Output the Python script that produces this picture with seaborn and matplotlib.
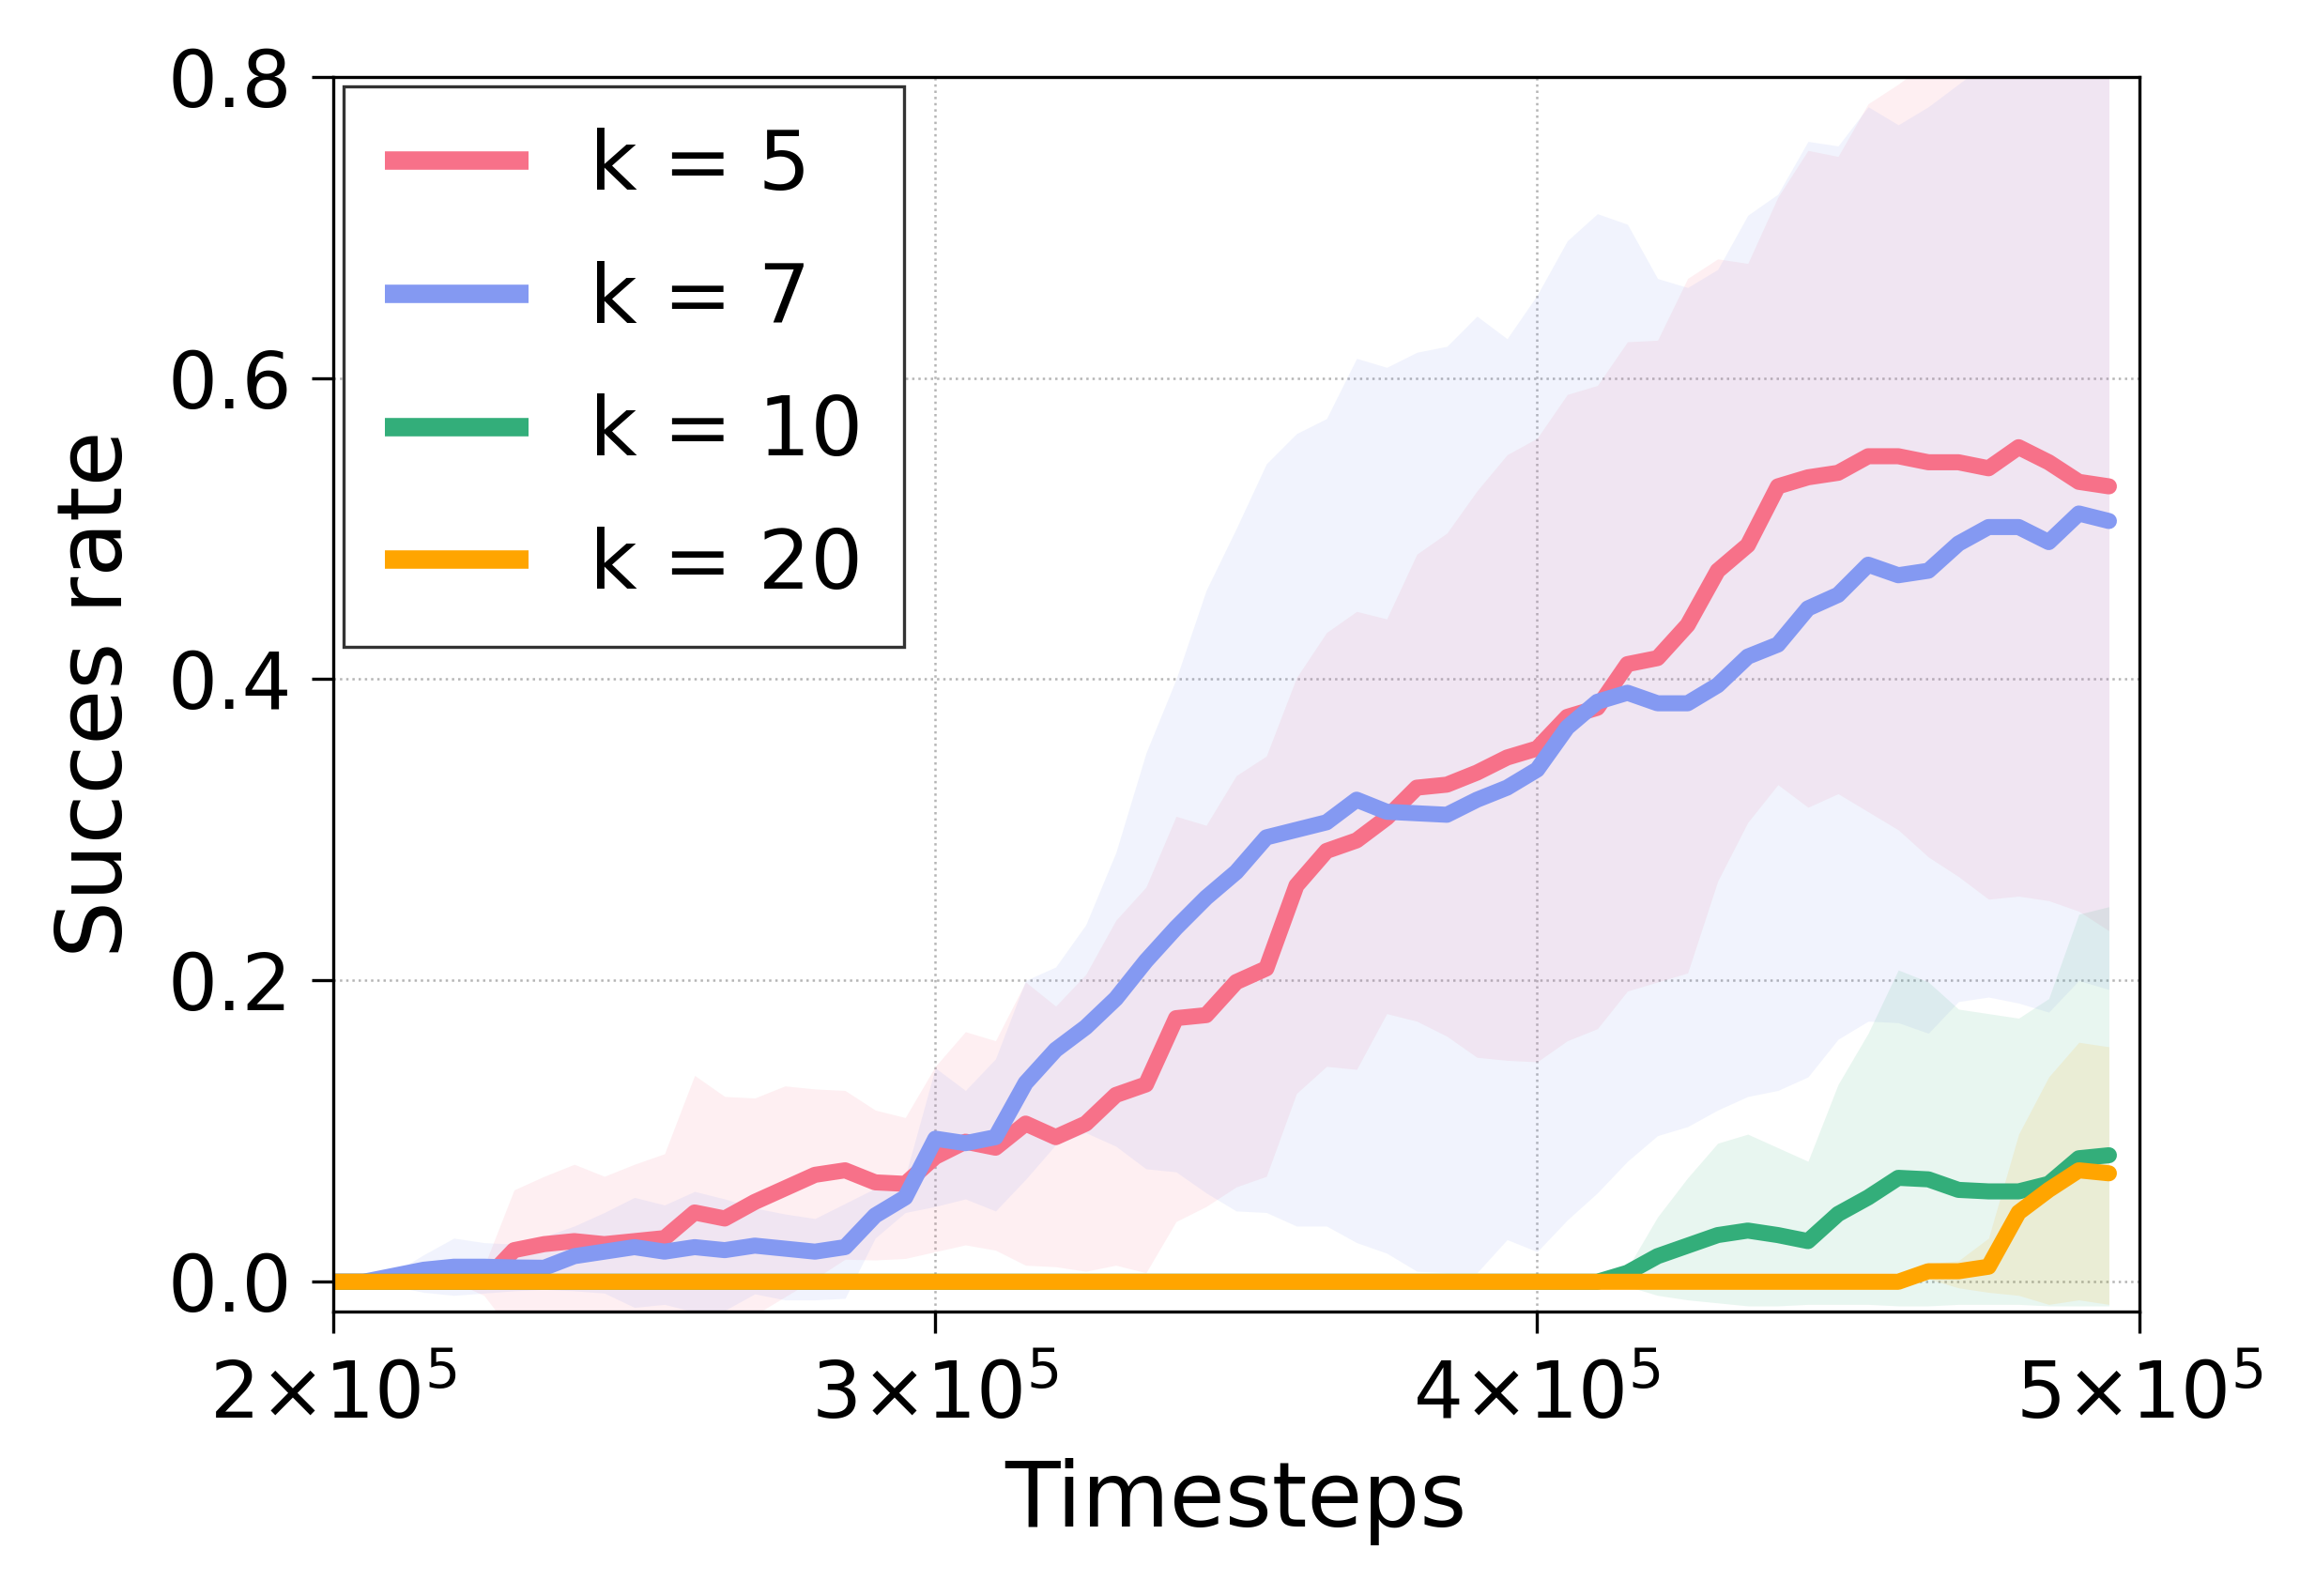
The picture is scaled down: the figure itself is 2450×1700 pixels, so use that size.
import numpy as np
import pandas as pd
import matplotlib
matplotlib.use("Agg")
import matplotlib.pyplot as plt
import seaborn as sns

# timesteps every 5000 from 2e5 to 4.95e5
timesteps = [200000 + 5000 * i for i in range(60)]

k5_mean = [0, 0, 0, 0, 0, 0.0, 0.021, 0.025, 0.027, 0.025,
           0.027, 0.029, 0.046, 0.042, 0.053, 0.062, 0.071, 0.074, 0.066, 0.065,
           0.083, 0.093, 0.089, 0.105, 0.096, 0.105, 0.124, 0.131, 0.175, 0.177,
           0.199, 0.208, 0.263, 0.286, 0.293, 0.308, 0.328, 0.330, 0.338, 0.348,
           0.354, 0.375, 0.381, 0.410, 0.414, 0.436, 0.472, 0.489, 0.528, 0.534,
           0.537, 0.548, 0.548, 0.544, 0.544, 0.540, 0.554, 0.544, 0.531, 0.528]
k5_upper = [0, 0, 0, 0, 0, 0.01, 0.061, 0.070, 0.078, 0.070,
            0.078, 0.085, 0.137, 0.123, 0.122, 0.130, 0.128, 0.127, 0.114, 0.109,
            0.143, 0.166, 0.160, 0.199, 0.183, 0.204, 0.240, 0.262, 0.309, 0.303,
            0.336, 0.349, 0.401, 0.431, 0.445, 0.440, 0.483, 0.497, 0.525, 0.549,
            0.560, 0.589, 0.595, 0.624, 0.625, 0.666, 0.679, 0.676, 0.720, 0.751,
            0.747, 0.782, 0.795, 0.810, 0.830, 0.845, 0.855, 0.865, 0.875, 0.880]
k5_lower = [0, 0, 0, 0, 0, -0.009, -0.035, -0.040, -0.045, -0.045,
            -0.045, -0.045, -0.045, -0.035, -0.022, -0.010, 0.002, 0.015, 0.0145, 0.0155,
            0.020, 0.0245, 0.021, 0.011, 0.010, 0.007, 0.011, 0.006, 0.040, 0.050,
            0.063, 0.070, 0.125, 0.143, 0.141, 0.178, 0.173, 0.163, 0.149, 0.147,
            0.146, 0.160, 0.168, 0.193, 0.199, 0.205, 0.266, 0.305, 0.330, 0.315,
            0.324, 0.312, 0.300, 0.282, 0.269, 0.254, 0.256, 0.253, 0.246, 0.233]

k7_mean = [0, 0, 0.004, 0.008, 0.010, 0.010, 0.0095, 0.0093, 0.017, 0.020,
           0.023, 0.020, 0.023, 0.021, 0.024, 0.022, 0.020, 0.023, 0.044, 0.056,
           0.095, 0.092, 0.096, 0.132, 0.154, 0.169, 0.188, 0.213, 0.235, 0.255,
           0.272, 0.295, 0.300, 0.305, 0.320, 0.312, 0.311, 0.310, 0.320, 0.328,
           0.340, 0.368, 0.385, 0.391, 0.384, 0.384, 0.396, 0.415, 0.423, 0.447,
           0.456, 0.476, 0.469, 0.472, 0.490, 0.501, 0.501, 0.491, 0.510, 0.505]
k7_upper = [0, 0.002, 0.006, 0.018, 0.029, 0.026, 0.025, 0.030, 0.037, 0.046,
            0.056, 0.051, 0.060, 0.055, 0.049, 0.045, 0.042, 0.052, 0.062, 0.070,
            0.142, 0.127, 0.148, 0.200, 0.209, 0.237, 0.285, 0.351, 0.400, 0.459,
            0.500, 0.543, 0.563, 0.573, 0.613, 0.607, 0.617, 0.621, 0.641, 0.626,
            0.655, 0.691, 0.709, 0.702, 0.666, 0.660, 0.672, 0.708, 0.722, 0.757,
            0.754, 0.780, 0.768, 0.780, 0.795, 0.810, 0.820, 0.830, 0.840, 0.850]
k7_lower = [0, 0, -0.003, -0.007, -0.009, -0.0075, -0.006, -0.005, -0.006, -0.0075,
            -0.017, -0.015, -0.020, -0.019, -0.008, -0.012, -0.012, -0.011, 0.029, 0.046,
            0.050, 0.055, 0.047, 0.068, 0.091, 0.099, 0.090, 0.075, 0.073, 0.059,
            0.047, 0.046, 0.037, 0.037, 0.026, 0.019, 0.007, 0.006, 0.006, 0.028,
            0.020, 0.041, 0.059, 0.080, 0.097, 0.103, 0.114, 0.123, 0.127, 0.136,
            0.161, 0.173, 0.172, 0.165, 0.186, 0.189, 0.185, 0.179, 0.200, 0.194]

k10_mean = [0] * 43 + [0.006, 0.017, 0.024, 0.031, 0.034, 0.031, 0.027,
                       0.045, 0.056, 0.069, 0.068, 0.061, 0.060, 0.060, 0.065, 0.082, 0.084]
k10_upper = [0] * 43 + [0.009, 0.043, 0.069, 0.092, 0.098, 0.089, 0.080,
                        0.131, 0.165, 0.207, 0.199, 0.181, 0.178, 0.175, 0.188, 0.244, 0.249]
k10_lower = [0] * 43 + [-0.003, -0.009, -0.012, -0.014, -0.016, -0.016, -0.015,
                        -0.015, -0.015, -0.016, -0.016, -0.015, -0.015, -0.015, -0.016, -0.016, -0.016]

k20_mean = [0] * 53 + [0.007, 0.007, 0.010, 0.046, 0.061, 0.074, 0.072]
k20_upper = [0] * 53 + [0.012, 0.014, 0.029, 0.098, 0.136, 0.159, 0.156]
k20_lower = [0] * 53 + [0.002, -0.004, -0.007, -0.009, -0.015, -0.012, -0.015]

labels = ["k = 5", "k = 7", "k = 10", "k = 20"]
colors = ["#f77189", "#8499f2", "#33ae7a", "#ffa500"]
xtick_vals = [200000, 300000, 400000, 500000]
xtick_labels = [r"$2{\times}10^{5}$", r"$3{\times}10^{5}$", r"$4{\times}10^{5}$", r"$5{\times}10^{5}$"]
ytick_vals = [0.0, 0.2, 0.4, 0.6, 0.8]

means = [k5_mean, k7_mean, k10_mean, k20_mean]
uppers = [k5_upper, k7_upper, k10_upper, k20_upper]
lowers = [k5_lower, k7_lower, k10_lower, k20_lower]

rows = []
for lab, m in zip(labels, means):
    for t, v in zip(timesteps, m):
        rows.append({"Timesteps": t, "Succes rate": v, "k": lab})
df = pd.DataFrame(rows)

sns.set_theme(style="ticks", rc={"text.color": "black", "axes.labelcolor": "black",
                                 "xtick.color": "black", "ytick.color": "black"})
plt.rcParams["font.family"] = ["DejaVu Sans"]
plt.rcParams["mathtext.fontset"] = "dejavusans"

fig = plt.figure(figsize=(2450 / 300, 1700 / 300), dpi=300)
ax = fig.add_axes([0.145, 0.178, 0.785, 0.774])

for lab, c, lo, hi in zip(labels, colors, lowers, uppers):
    ax.fill_between(timesteps, lo, hi, color=c, alpha=0.11, linewidth=0)

sns.lineplot(data=df, x="Timesteps", y="Succes rate", hue="k", hue_order=labels,
             palette=dict(zip(labels, colors)), linewidth=4.1, errorbar=None, ax=ax)

ax.set_xlim(200000, 500000)
ax.set_ylim(-0.02, 0.8)
ax.set_xticks(xtick_vals)
ax.set_xticklabels(xtick_labels)
ax.set_yticks(ytick_vals)
ax.grid(True, linestyle=":", color="#b5b5b5", linewidth=0.6)
ax.set_axisbelow(True)

for s in ax.spines.values():
    s.set_color("black")
    s.set_linewidth(0.8)
ax.tick_params(axis="both", direction="out", length=5.5, width=0.8,
               labelsize=20, colors="black")
ax.tick_params(axis="y", pad=5)
ax.tick_params(axis="x", pad=6.5)
ax.set_xlabel("Timesteps", fontsize=23, labelpad=6)
ax.set_ylabel("Succes rate", fontsize=23, labelpad=7)

handles, labs = ax.get_legend_handles_labels()
leg = ax.legend(handles, labs, loc="upper left", fontsize=21, frameon=True,
                fancybox=False, framealpha=1, edgecolor="#333333",
                borderaxespad=0.12, handlelength=1.75, handletextpad=0.75,
                labelspacing=0.66, borderpad=0.5)
leg.get_frame().set_linewidth(0.8)
for ln in leg.get_lines():
    ln.set_linewidth(4.7)
    ln.set_solid_capstyle("butt")

fig.savefig("out.png", dpi=300)
